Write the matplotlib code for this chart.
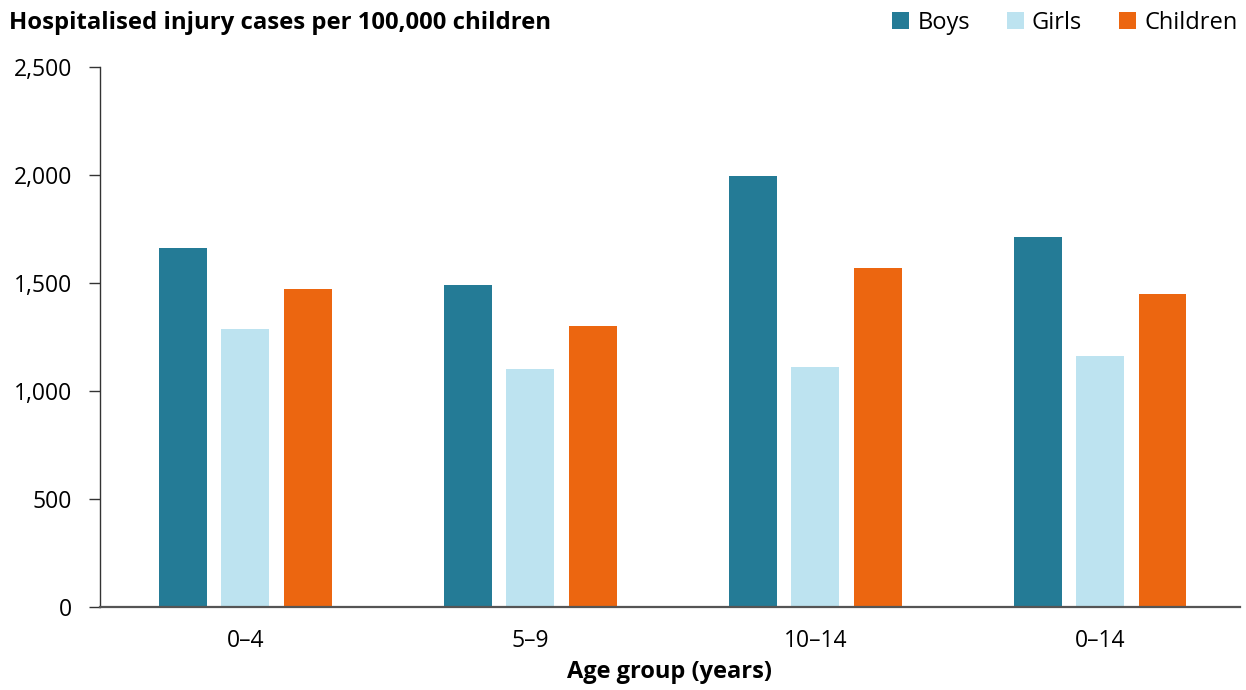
import matplotlib
matplotlib.use("Agg")
import matplotlib.pyplot as plt
import matplotlib.patches as mpatches
import numpy as np

plt.rcParams["font.family"] = ["Open Sans", "Noto Sans", "DejaVu Sans"]

age_groups = ["0–4", "5–9", "10–14", "0–14"]
series_names = ["Boys", "Girls", "Children"]
boys = [1662, 1489, 1995, 1713]
girls = [1286, 1100, 1113, 1162]
children = [1471, 1300, 1569, 1448]
colors = ["#247B96", "#BDE3F0", "#EC6610"]

fig = plt.figure(figsize=(12.46, 6.90), dpi=100)
ax = fig.add_axes([0.0803, 0.1203, 0.9147, 0.7826])

x = np.arange(len(age_groups))
bar_w = 0.168
step = 0.219
for i, (vals, c) in enumerate(zip([boys, girls, children], colors)):
    ax.bar(x + (i - 1) * step, vals, width=bar_w, color=c, zorder=3)

ax.set_xlim(-0.51, 3.49)
ax.set_ylim(0, 2500)
ax.set_yticks(np.arange(0, 2501, 500))
ax.set_yticklabels([f"{v:,}" for v in range(0, 2501, 500)])
ax.set_xticks(x)
ax.set_xticklabels(age_groups)
ax.tick_params(axis="y", labelsize=16.5, length=8, width=1, color="#333333", pad=12)
ax.tick_params(axis="x", labelsize=16.5, length=0, pad=16)

for s in ["top", "right"]:
    ax.spines[s].set_visible(False)
ax.spines["left"].set_color("#333333")
ax.spines["left"].set_linewidth(1)
ax.spines["bottom"].set_color("#555555")
ax.spines["bottom"].set_linewidth(1.6)
ax.spines["bottom"].set_zorder(4)

ax.set_xlabel("Age group (years)", fontsize=17, fontweight="bold", labelpad=5)

fig.text(0.007, 0.967, "Hospitalised injury cases per 100,000 children",
         fontsize=17.2, fontweight="bold", ha="left", va="center")

handles = [mpatches.Patch(facecolor=c, label=n) for n, c in zip(series_names, colors)]
fig.legend(handles=handles, loc="center right", bbox_to_anchor=(0.993, 0.967),
           ncol=3, frameon=False, fontsize=17, handlelength=0.72,
           handleheight=0.72, handletextpad=0.34, columnspacing=1.56,
           borderaxespad=0, borderpad=0)

fig.savefig("out.png", dpi=100)
